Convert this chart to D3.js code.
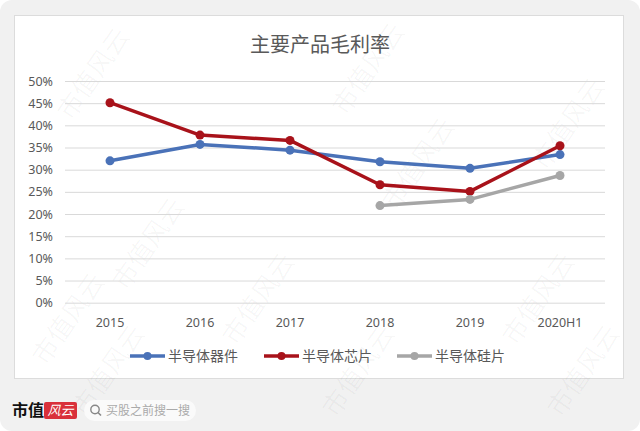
<!DOCTYPE html>
<html lang="zh">
<head>
<meta charset="UTF-8">
<title>主要产品毛利率</title>
<script src="https://d3js.org/d3.v7.min.js"></script>
<style>
  html, body { margin: 0; padding: 0; background: #fff; }
  svg { display: block; font-family: "Noto Sans CJK SC", "Noto Sans", sans-serif; }
</style>
</head>
<body>
<svg id="chart" width="640" height="431"></svg>
<script>
// data
const categories = ["2015", "2016", "2017", "2018", "2019", "2020H1"];
const seriesNames = ["半导体器件", "半导体芯片", "半导体硅片"];
const deviceMargin = [32.0, 35.7, 34.4, 31.8, 30.3, 33.4];
const chipMargin = [45.1, 37.8, 36.6, 26.6, 25.1, 35.4];
const waferMargin = [null, null, null, 21.9, 23.3, 28.7];
const yTicks = [0, 5, 10, 15, 20, 25, 30, 35, 40, 45, 50];
const colors = ["#4a72b8", "#a8121a", "#a6a6a6"];

const series = [deviceMargin, chipMargin, waferMargin].map((vals, i) => ({
  name: seriesNames[i],
  color: colors[i],
  points: categories.map((c, j) => ({ cat: c, v: vals[j] })).filter(d => d.v != null)
}));

const svg = d3.select("#chart");

// page background and card
svg.append("rect").attr("width", 640).attr("height", 431).attr("rx", 12).attr("fill", "#f1f1f1");
svg.append("rect")
  .attr("x", 14.5).attr("y", 15.5).attr("width", 609).attr("height", 363)
  .attr("fill", "#fff").attr("stroke", "#dcdcdc");

const x = d3.scaleBand().domain(categories).range([65, 605]);
const y = d3.scaleLinear().domain([0, 50]).range([302.7, 81]);
const cx = c => x(c) + x.bandwidth() / 2;

// watermark (faint, sits under the chart)
const marks = [[95, 75], [370, 70], [570, 125], [150, 245], [420, 165], [260, 300], [540, 300], [70, 320], [110, 372], [360, 372], [585, 372]];
svg.append("g").selectAll("text")
  .data(marks)
  .join("text")
  .attr("transform", d => `translate(${d[0]},${d[1]}) rotate(-55)`)
  .attr("text-anchor", "middle")
  .attr("dominant-baseline", "middle")
  .attr("font-size", 26)
  .attr("fill", "#000")
  .attr("fill-opacity", 0.035)
  .text("市值风云");

// title
svg.append("text")
  .attr("x", 320).attr("y", 52)
  .attr("text-anchor", "middle")
  .attr("font-size", 20)
  .attr("fill", "#595959")
  .text("主要产品毛利率");

// gridlines + y labels
const yAxis = svg.append("g")
  .attr("transform", "translate(65,0)")
  .call(d3.axisLeft(y).tickValues(yTicks).tickFormat(d => d + "%").tickSize(-540).tickPadding(12));
yAxis.select(".domain").remove();
yAxis.selectAll(".tick line").attr("stroke", "#d9d9d9");
yAxis.selectAll(".tick text").attr("fill", "#595959").attr("font-size", 12.5)
  .attr("font-family", "Noto Sans, sans-serif");

// x labels
const xAxis = svg.append("g")
  .attr("transform", "translate(0,302.7)")
  .call(d3.axisBottom(x).tickSize(0).tickPadding(15));
xAxis.select(".domain").remove();
xAxis.selectAll(".tick text").attr("fill", "#595959").attr("font-size", 12.5)
  .attr("font-family", "Noto Sans, sans-serif");

// lines
const line = d3.line().x(d => cx(d.cat)).y(d => y(d.v));
const g = svg.append("g");
series.forEach(s => {
  g.append("path")
    .datum(s.points)
    .attr("fill", "none")
    .attr("stroke", s.color)
    .attr("stroke-width", 3.5)
    .attr("stroke-linejoin", "round")
    .attr("stroke-linecap", "round")
    .attr("d", line);
  g.selectAll(null)
    .data(s.points)
    .join("circle")
    .attr("cx", d => cx(d.cat))
    .attr("cy", d => y(d.v))
    .attr("r", 4.5)
    .attr("fill", s.color);
});

// legend
const legendX = [130, 264, 397];
const legend = svg.append("g");
series.forEach((s, i) => {
  const lg = legend.append("g").attr("transform", `translate(${legendX[i]},356)`);
  lg.append("line").attr("x1", 0).attr("x2", 35).attr("stroke", s.color).attr("stroke-width", 3.5);
  lg.append("circle").attr("cx", 17.5).attr("r", 4).attr("fill", s.color);
  lg.append("text").attr("x", 38).attr("y", 5).attr("font-size", 14).attr("fill", "#595959").text(s.name);
});

// footer brand + search pill
const foot = svg.append("g");
foot.append("text").attr("x", 12).attr("y", 416).attr("font-size", 16).attr("font-weight", "bold")
  .attr("fill", "#111").text("市值");
foot.append("rect").attr("x", 44).attr("y", 402).attr("width", 33).attr("height", 17).attr("rx", 2).attr("fill", "#d9303a");
foot.append("text").attr("x", 60.5).attr("y", 415).attr("text-anchor", "middle").attr("font-size", 13)
  .attr("font-style", "italic").attr("fill", "#fff").text("风云");
foot.append("rect").attr("x", 84).attr("y", 400).attr("width", 112).attr("height", 21).attr("rx", 10.5).attr("fill", "#fafafa");
foot.append("circle").attr("cx", 95).attr("cy", 409.5).attr("r", 4.2).attr("fill", "none").attr("stroke", "#888").attr("stroke-width", 1.4);
foot.append("line").attr("x1", 98).attr("y1", 412.5).attr("x2", 101).attr("y2", 415.5).attr("stroke", "#888").attr("stroke-width", 1.6);
foot.append("text").attr("x", 106).attr("y", 415).attr("font-size", 12).attr("fill", "#aaa").text("买股之前搜一搜");
</script>
</body>
</html>
